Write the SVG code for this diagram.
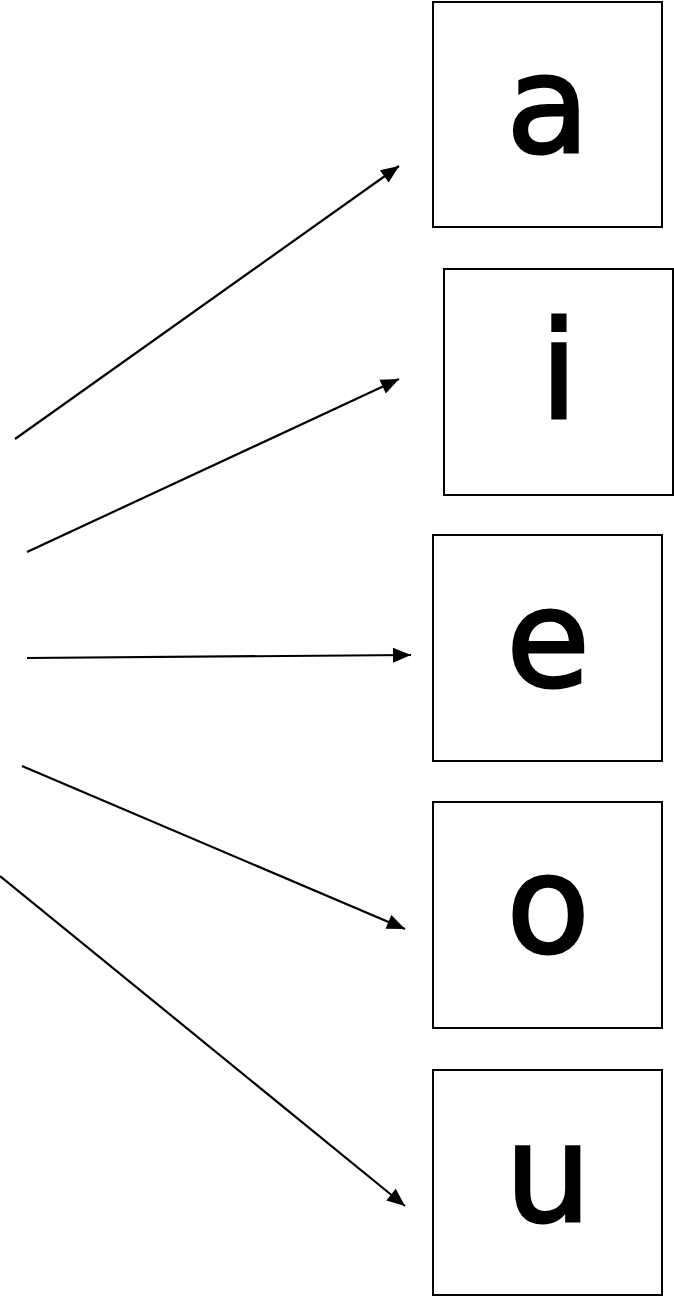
<svg xmlns="http://www.w3.org/2000/svg" width="674" height="1298" viewBox="0 0 674 1298">
<style>
.box{fill:#fff;stroke:#000;stroke-width:2}
.lbl{font-family:"DejaVu Sans",sans-serif;font-size:136px;fill:#000;stroke:#000;stroke-width:3;text-anchor:middle}
.edge{stroke:#000;stroke-width:2.2;fill:none}
</style>
<defs>
<marker id="ah" markerUnits="userSpaceOnUse" markerWidth="20" markerHeight="18" refX="18" refY="9" orient="auto" overflow="visible">
<path d="M0,1.5 L18,9 L0,16.5 Z" fill="#000"/>
</marker>
</defs>
<rect width="674" height="1298" fill="#fff"/>
<g id="connectors">
<line class="edge" x1="15" y1="439" x2="399" y2="166" marker-end="url(#ah)"/>
<line class="edge" x1="27" y1="552" x2="399" y2="379" marker-end="url(#ah)"/>
<line class="edge" x1="27" y1="658" x2="411" y2="655" marker-end="url(#ah)"/>
<line class="edge" x1="22" y1="766" x2="405" y2="929" marker-end="url(#ah)"/>
<line class="edge" x1="0" y1="876" x2="405" y2="1206" marker-end="url(#ah)"/>
</g>
<g id="node-a"><rect class="box" x="433" y="2" width="229" height="225"/><text class="lbl" x="548" y="152">a</text></g>
<g id="node-i"><rect class="box" x="444" y="269" width="229" height="226"/><text class="lbl" x="559" y="418">i</text></g>
<g id="node-e"><rect class="box" x="433" y="535" width="229" height="226"/><text class="lbl" x="548" y="686">e</text></g>
<g id="node-o"><rect class="box" x="433" y="802" width="229" height="226"/><text class="lbl" x="548" y="952">o</text></g>
<g id="node-u"><rect class="box" x="433" y="1070" width="229" height="225"/><text class="lbl" x="548" y="1221">u</text></g>
</svg>
